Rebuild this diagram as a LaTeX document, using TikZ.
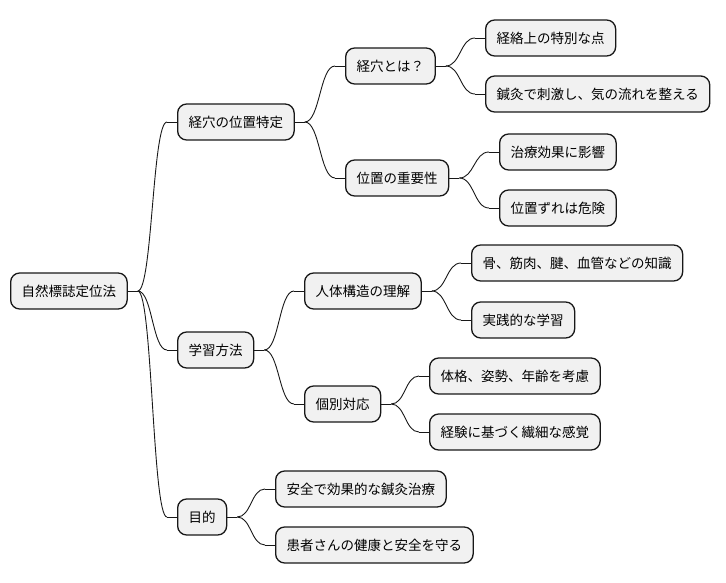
\documentclass[tikz,border=0pt]{standalone}
\usepackage{fontspec}
\newfontfamily\jp{Noto Sans CJK JP}
\usetikzlibrary{calc}
\definecolor{boxfill}{HTML}{F1F1F1}
\definecolor{boxline}{HTML}{181818}
\tikzset{
  mm/.style={draw=boxline, fill=boxfill, line width=1.3pt, rounded corners=9pt,
    minimum height=36pt, inner xsep=11pt, inner ysep=0pt, anchor=west,
    font=\jp\fontsize{13.5pt}{15pt}\selectfont, text=black},
  link/.style={draw=boxline, line width=0.9pt}
}
\newcommand\conn[2]{%
  \path (#1.east) -- ++(10pt,0) coordinate (s);
  \path (#2.west) -- ++(-10pt,0) coordinate (t);
  \draw[link] (#1.east) -- (s);
  \draw[link] (t) -- (#2.west);
  \draw[link] let \p1=(s), \p2=(t) in (s) .. controls ({(\x1+\x2)/2},\y1) and ({(\x1+\x2)/2},\y2) .. (t);
}
\begin{document}
\begin{tikzpicture}[x=1pt,y=-1pt]
\useasboundingbox (0,0) rectangle (726,583);
\node[mm] (root) at (10,291) {自然標誌定位法};
\node[mm] (a) at (177,122) {経穴の位置特定};
\node[mm] (b) at (177,350) {学習方法};
\node[mm] (c) at (177,517) {目的};
\node[mm] (a1) at (345,66) {経穴とは？};
\node[mm] (a2) at (345,178) {位置の重要性};
\node[mm] (b1) at (304,291) {人体構造の理解};
\node[mm] (b2) at (304,404) {個別対応};
\node[mm] (c1) at (275,489) {安全で効果的な鍼灸治療};
\node[mm] (c2) at (275,545) {患者さんの健康と安全を守る};
\node[mm] (a11) at (485,38) {経絡上の特別な点};
\node[mm] (a12) at (485,94) {鍼灸で刺激し、気の流れを整える};
\node[mm] (a21) at (499,152) {治療効果に影響};
\node[mm] (a22) at (499,208) {位置ずれは危険};
\node[mm] (b11) at (471,263) {骨、筋肉、腱、血管などの知識};
\node[mm] (b12) at (471,320) {実践的な学習};
\node[mm] (b21) at (429,376) {体格、姿勢、年齢を考慮};
\node[mm] (b22) at (429,432) {経験に基づく繊細な感覚};
\conn{root}{a}\conn{root}{b}\conn{root}{c}
\conn{a}{a1}\conn{a}{a2}
\conn{b}{b1}\conn{b}{b2}
\conn{c}{c1}\conn{c}{c2}
\conn{a1}{a11}\conn{a1}{a12}
\conn{a2}{a21}\conn{a2}{a22}
\conn{b1}{b11}\conn{b1}{b12}
\conn{b2}{b21}\conn{b2}{b22}
\end{tikzpicture}
\end{document}
